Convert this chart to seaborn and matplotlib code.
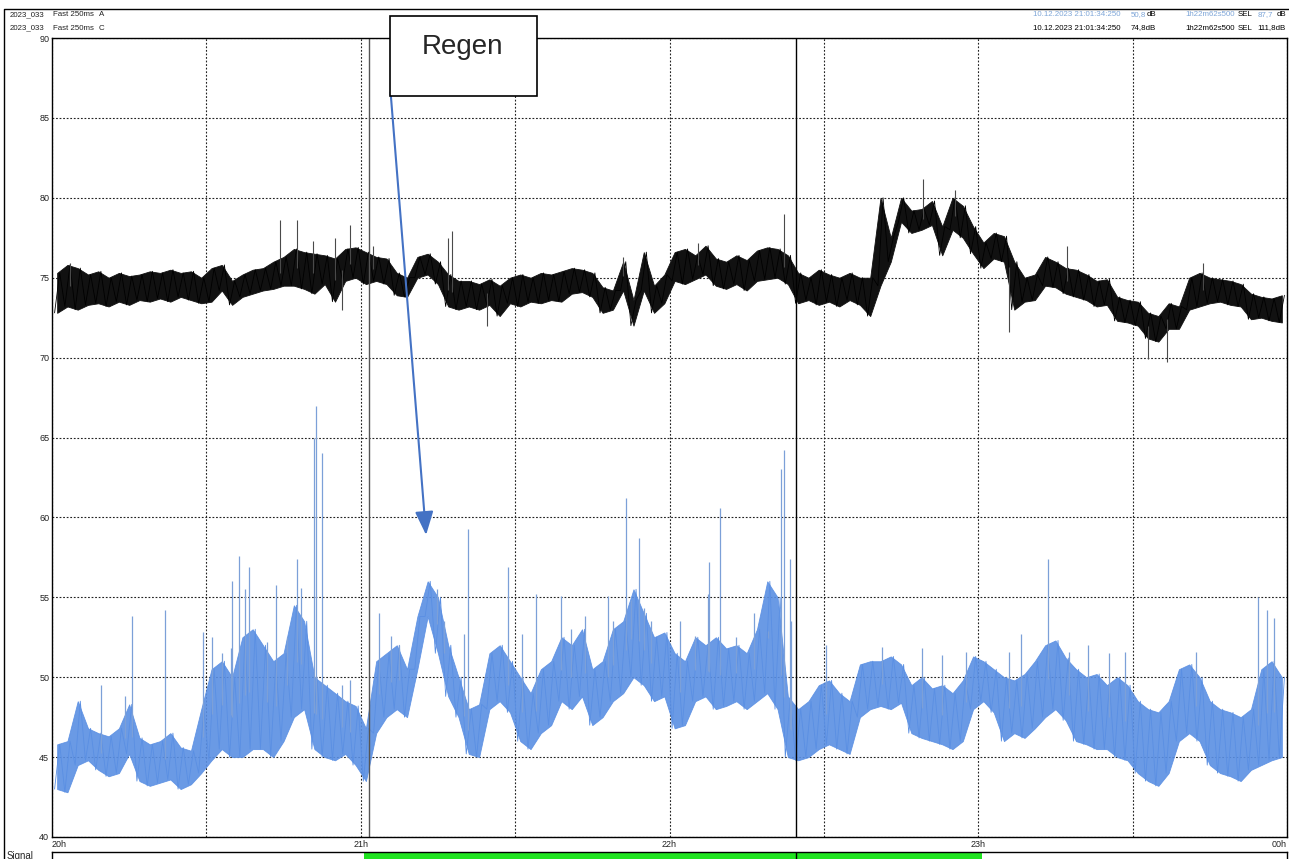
import numpy as np
import pandas as pd
import matplotlib
matplotlib.use("Agg")
import matplotlib.pyplot as plt
import seaborn as sns
from matplotlib.patches import Rectangle
from matplotlib.lines import Line2D

# levels, one low/high pair per 2-minute bin (minutes after 20:00)
c_low = [72.8, 73.2, 73.0, 73.3, 73.4, 73.2, 73.5, 73.3, 73.6, 73.5,
         73.7, 73.5, 73.8, 73.6, 73.4, 73.5, 74.2, 73.3, 73.8, 74.0,
         74.2, 74.3, 74.5, 74.5, 74.3, 74.0, 74.6, 73.5, 74.8, 75.0,
         74.6, 74.8, 74.6, 73.9, 73.8, 75.0, 75.2, 74.6, 73.2, 73.0,
         73.2, 73.0, 73.3, 72.6, 73.4, 73.2, 73.5, 73.4, 73.6, 73.5,
         74.0, 74.1, 73.8, 72.8, 73.0, 74.2, 72.0, 74.2, 72.8, 73.4,
         74.8, 74.6, 74.9, 75.2, 74.5, 74.3, 74.6, 74.2, 74.8, 74.9,
         75.0, 74.6, 73.4, 73.6, 73.3, 73.5, 73.2, 73.6, 73.3, 72.6,
         74.5, 76.0, 78.5, 77.8, 78.0, 78.3, 76.4, 78.0, 77.5, 76.5,
         75.6, 76.2, 76.0, 73.0, 73.5, 73.6, 74.5, 74.4, 74.0, 73.8,
         73.6, 73.2, 73.3, 72.3, 72.2, 72.0, 71.2, 71.0, 71.8, 71.8,
         73.0, 73.2, 73.4, 73.5, 73.3, 73.2, 72.4, 72.5, 72.3, 72.2]
c_high = [75.3, 75.8, 75.6, 75.2, 75.4, 75.0, 75.3, 75.1, 75.2, 75.4,
          75.3, 75.5, 75.3, 75.4, 75.0, 75.6, 75.8, 74.8, 75.2, 75.5,
          75.6, 76.0, 76.3, 76.8, 76.6, 76.5, 76.4, 76.2, 76.8, 76.9,
          76.6, 76.3, 76.2, 75.3, 75.0, 76.3, 76.5, 76.0, 75.2, 74.8,
          74.8, 74.6, 74.9, 74.5, 75.0, 75.2, 75.0, 75.3, 75.2, 75.4,
          75.6, 75.5, 75.3, 74.4, 74.2, 76.0, 73.6, 76.6, 74.5, 75.2,
          76.6, 76.8, 76.4, 77.0, 76.2, 76.0, 76.4, 76.1, 76.7, 76.9,
          76.8, 76.4, 75.3, 75.0, 75.5, 75.2, 75.0, 75.3, 75.0, 75.0,
          80.0, 77.5, 80.0, 79.2, 79.3, 79.8, 78.2, 80.0, 79.5, 78.2,
          77.2, 77.8, 77.6, 76.0, 75.0, 75.2, 76.3, 76.0, 75.6, 75.5,
          75.2, 74.8, 74.9, 73.8, 73.6, 73.5, 72.8, 72.6, 73.4, 73.2,
          75.0, 75.3, 75.0, 74.9, 74.8, 74.6, 74.0, 73.8, 73.7, 73.9]
a_low = [43.0, 42.8, 44.5, 44.8, 44.2, 43.8, 44.0, 45.2, 43.5, 43.2,
         43.4, 43.6, 43.0, 43.3, 44.0, 44.8, 45.5, 45.0, 45.0, 45.5,
         45.5, 45.0, 46.0, 47.5, 48.0, 45.5, 45.0, 44.8, 45.2, 44.5,
         43.5, 46.5, 47.5, 48.0, 47.5, 50.5, 53.8, 51.5, 48.8, 47.5,
         45.2, 45.0, 48.0, 48.5, 47.8, 46.0, 45.5, 46.5, 47.0, 48.5,
         48.0, 48.8, 47.0, 47.5, 48.5, 49.0, 50.0, 49.5, 48.5, 48.8,
         46.8, 47.0, 48.5, 48.8, 48.0, 48.2, 48.5, 48.0, 48.5, 49.0,
         48.0, 45.0, 44.8, 45.0, 45.5, 45.8, 45.5, 45.2, 47.5, 48.0,
         48.2, 48.0, 48.4, 46.5, 46.2, 46.0, 45.8, 45.5, 46.0, 48.0,
         48.5, 47.8, 46.0, 46.5, 46.2, 46.8, 47.5, 48.0, 47.3, 46.0,
         45.8, 45.5, 45.5, 45.0, 44.8, 44.0, 43.5, 43.2, 44.0, 46.0,
         46.5, 46.0, 44.5, 44.0, 43.8, 43.5, 44.2, 44.5, 44.8, 45.0]
a_high = [45.8, 46.0, 48.5, 46.8, 46.5, 46.3, 46.8, 48.3, 46.2, 45.8,
          46.0, 46.5, 45.6, 45.4, 48.0, 50.5, 51.0, 50.0, 52.5, 53.0,
          52.0, 51.0, 51.5, 54.5, 53.5, 50.0, 49.5, 49.0, 48.5, 48.2,
          46.8, 51.0, 51.5, 52.0, 50.5, 53.8, 56.0, 55.0, 52.0, 50.0,
          48.0, 48.3, 51.5, 52.0, 51.0, 50.0, 49.0, 50.5, 51.0, 52.5,
          52.0, 53.0, 50.5, 51.0, 53.0, 53.5, 55.5, 54.0, 52.5, 52.8,
          51.5, 51.0, 52.5, 52.0, 52.5, 51.8, 52.0, 51.5, 53.0, 56.0,
          55.0, 48.8, 48.0, 48.5, 49.5, 49.8, 49.0, 48.5, 50.8, 51.0,
          51.0, 51.3, 50.8, 49.5, 50.0, 49.3, 49.5, 49.0, 49.8, 51.3,
          51.0, 50.5, 50.0, 49.8, 50.2, 51.0, 52.0, 52.3, 51.2, 50.5,
          50.0, 50.2, 49.5, 50.0, 49.5, 48.5, 48.0, 47.8, 48.5, 50.5,
          50.8, 50.0, 48.5, 48.0, 47.8, 47.5, 48.0, 50.5, 51.0, 50.0]

# single short peaks (minute, dB)
c_spike_min = [3.5, 44.4, 47.7, 50.8, 55.0, 56.3, 58.0, 62.3, 76.9, 77.7, 84.5,
               111.0, 125.6, 142.2, 169.2, 175.5, 186.0, 197.3, 213.0, 216.6, 223.7]
c_spike_db = [75.9, 78.6, 78.6, 77.3, 77.5, 73.0, 78.3, 77.0, 77.5, 77.9, 72.0,
              76.3, 77.2, 79.0, 81.2, 80.5, 71.6, 77.0, 69.9, 69.7, 75.9]
a_spike_min = [9.5, 14.2, 15.5, 22.0, 29.3, 31.1, 33.0, 34.7, 35.0, 36.4,
               37.5, 38.3, 41.8, 43.5, 45.7, 47.6, 48.3, 51.0, 51.3, 52.4,
               56.4, 58.0, 63.5, 65.8, 67.4, 74.9, 76.2, 80.1, 80.9, 88.7,
               91.4, 94.0, 98.9, 100.9, 103.6, 108.0, 109.0, 111.6, 112.5, 114.0,
               115.1, 116.4, 122.0, 124.9, 127.5, 127.7, 129.8, 133.0, 136.5, 139.1,
               141.6, 142.2, 143.5, 143.7, 150.5, 161.2, 169.0, 172.9, 177.6, 185.9,
               188.3, 193.6, 197.7, 201.4, 205.5, 208.5, 222.3, 234.3, 236.2, 237.5]
a_spike_db = [49.5, 48.8, 53.8, 54.2, 52.8, 52.5, 51.5, 51.8, 56.0, 57.6,
              55.5, 56.9, 52.2, 55.8, 52.5, 57.4, 55.6, 65.0, 67.0, 64.0,
              49.5, 49.8, 54.0, 52.6, 52.0, 55.5, 53.5, 52.7, 59.3, 56.9,
              52.7, 55.2, 55.1, 53.0, 53.8, 55.1, 53.5, 61.2, 54.8, 58.7,
              54.3, 53.5, 53.5, 52.6, 55.2, 57.2, 60.6, 52.5, 54.0, 52.9,
              63.0, 64.2, 57.4, 53.5, 52.0, 51.9, 51.8, 51.4, 51.6, 51.6,
              52.7, 57.4, 51.6, 52.0, 51.5, 51.6, 51.6, 55.0, 54.2, 53.7]

cursor_min = [61.57, 144.61]          # 21:01:34 and 22:24:37
signal_on = [60.6, 180.8]
hour_ticks = [0, 30, 60, 90, 120, 150, 180, 210, 240]
hour_labels = ["20h", "", "21h", "", "22h", "", "23h", "", "00h"]

blue = "#5a8fe3"
W, H = 1289, 859

sns.set_theme(style="white")
plt.rcParams["font.family"] = ["Liberation Sans", "DejaVu Sans"]

bins = np.arange(len(c_low)) * 2.0
zig_t = np.column_stack([bins + 0.5, bins + 1.5]).ravel()
df = pd.DataFrame({
    "minute": np.concatenate([zig_t, zig_t]),
    "dB": np.concatenate([np.column_stack([c_low, c_high]).ravel(),
                          np.column_stack([a_low, a_high]).ravel()]),
    "channel": ["C"] * len(zig_t) + ["A"] * len(zig_t),
})

fig = plt.figure(figsize=(W / 100, H / 100), dpi=100)
ax = fig.add_axes([52 / W, 1 - 837 / H, 1235 / W, 799 / H])

# envelope bands + trace
mid = bins + 1.0
ax.fill_between(mid, c_low, c_high, color="#111111", lw=0.6, alpha=1.0)
ax.fill_between(mid, a_low, a_high, color=blue, lw=0.6, alpha=0.9)
sns.lineplot(data=df, x="minute", y="dB", hue="channel",
             palette={"A": blue, "C": "black"}, estimator=None,
             lw=0.6, legend=False, ax=ax)

# spikes
c_base = np.interp(c_spike_min, mid, (np.array(c_low) + np.array(c_high)) / 2)
a_base = np.interp(a_spike_min, mid, (np.array(a_low) + np.array(a_high)) / 2)
ax.vlines(c_spike_min, c_base, c_spike_db, color="#4a4a4a", lw=0.8)
ax.vlines(a_spike_min, a_base, a_spike_db, color="#7ca0d8", lw=0.9)

for m, col in zip(cursor_min, ["#555555", "black"]):
    ax.axvline(m, color=col, lw=1.0)

ax.set_xlim(0, 240)
ax.set_ylim(40, 90)
ax.set_xticks(hour_ticks)
ax.set_xticklabels(hour_labels)
ax.set_yticks(np.arange(40, 91, 5))
ax.set_xlabel("")
ax.set_ylabel("")
ax.tick_params(axis="both", length=0, labelsize=6.5, pad=2, colors="#222222")
xl = ax.get_xticklabels()
xl[0].set_ha("left")
xl[-1].set_ha("right")
ax.grid(True, color="#222222", lw=0.8, ls=(0, (1.6, 1.6)))
for s in ax.spines.values():
    s.set_color("black")
    s.set_linewidth(1.0)

# Regen annotation
ax.annotate("", xy=(72.7, 58.9), xytext=(65.8, 86.6),
            arrowprops=dict(arrowstyle="-|>,head_width=0.35,head_length=0.9",
                            color="#4472c4", lw=1.5, mutation_scale=16,
                            shrinkA=0, shrinkB=0),
            annotation_clip=False)
fig.add_artist(Rectangle((390 / W, 1 - 96 / H), 147 / W, 80 / H,
                         transform=fig.transFigure, fc="white", ec="black",
                         lw=1.2, zorder=10))
fig.text(463 / W, 1 - 47 / H, "Regen", fontsize=20, ha="center", va="center",
         zorder=11)

# signal strip at bottom
sax = fig.add_axes([52 / W, 0, 1235 / W, 7 / H])
sax.set_xlim(0, 240)
sax.set_ylim(0, 1)
sax.axvspan(signal_on[0], signal_on[1], color="#1fe31f", lw=0)
sax.axvline(cursor_min[1], color="black", lw=1.0)
sax.set_xticks([])
sax.set_yticks([])
sax.spines["bottom"].set_visible(False)
for s in ["top", "left", "right"]:
    sax.spines[s].set_color("black")
    sax.spines[s].set_linewidth(1.0)
fig.text(7 / W, 1 - 851 / H, "Signal", fontsize=7, va="top", ha="left")

# outer frame
fig.add_artist(Line2D([4 / W, 4 / W, 1], [0, 1 - 9 / H, 1 - 9 / H],
                      transform=fig.transFigure, color="black", lw=1.0))

# header
hs = 5.7
y1, y2 = 1 - 15 / H, 1 - 28 / H
for y, ch in [(y1, "A"), (y2, "C")]:
    fig.text(10 / W, y, "2023_033", fontsize=hs, va="center", color="#222222")
    fig.text(53 / W, y, "Fast 250ms", fontsize=hs, va="center", color="#222222")
    fig.text(99 / W, y, ch, fontsize=hs, va="center", color="#222222")

lb = "#7ea6d8"
fig.text(1033 / W, y1, "10.12.2023 21:01:34:250", fontsize=hs, va="center", color=lb)
fig.text(1131 / W, y1, "50,8", fontsize=hs, va="center", color=lb)
fig.text(1147 / W, y1, "dB", fontsize=hs, va="center", color="black")
fig.text(1185 / W, y1, "1h22m62s500", fontsize=hs, va="center", color=lb)
fig.text(1238 / W, y1, "SEL", fontsize=hs, va="center", color="black")
fig.text(1273 / W, y1, "87,7", fontsize=hs, va="center", color=lb, ha="right")
fig.text(1286 / W, y1, "dB", fontsize=hs, va="center", color="black", ha="right")

fig.text(1033 / W, y2, "10.12.2023 21:01:34:250", fontsize=hs, va="center", color="black")
fig.text(1131 / W, y2, "74,8dB", fontsize=hs, va="center", color="black")
fig.text(1185 / W, y2, "1h22m62s500", fontsize=hs, va="center", color="black")
fig.text(1238 / W, y2, "SEL", fontsize=hs, va="center", color="black")
fig.text(1286 / W, y2, "111,8dB", fontsize=hs, va="center", color="black", ha="right")

fig.savefig("out.png", dpi=100)
